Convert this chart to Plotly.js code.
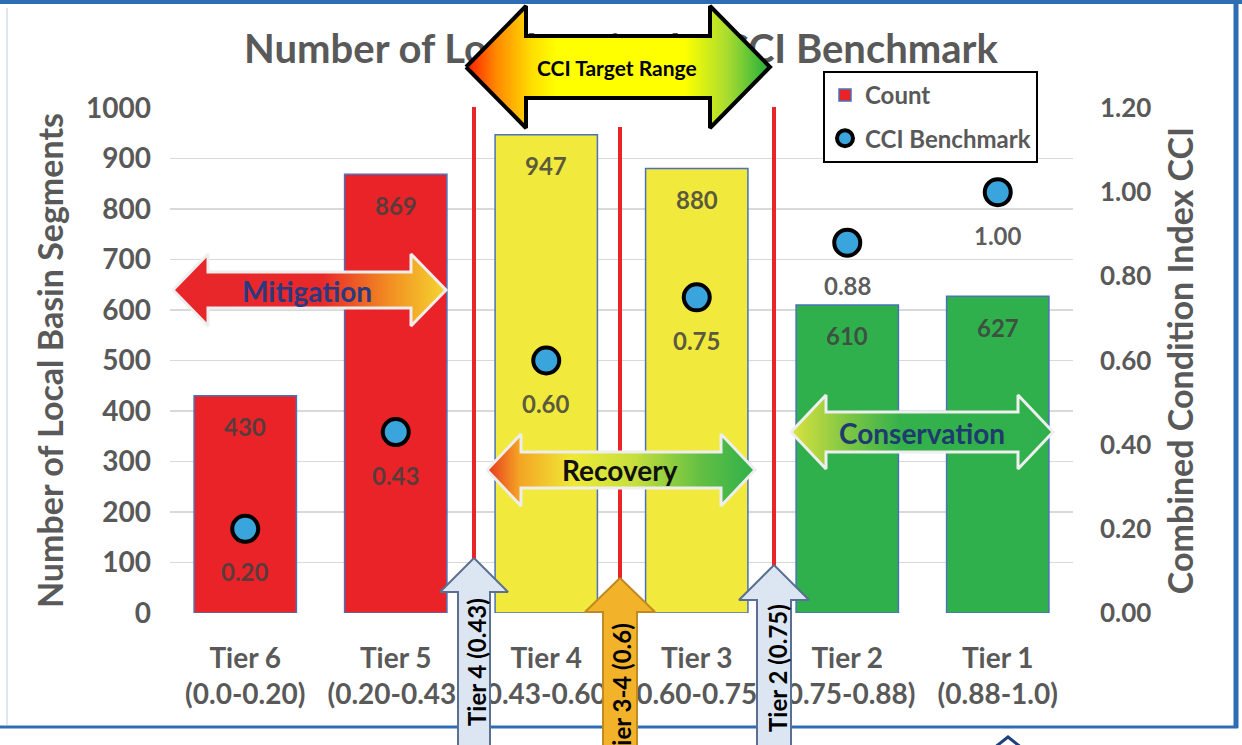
<!DOCTYPE html>
<html>
<head>
<meta charset="utf-8">
<script src="https://cdn.plot.ly/plotly-3.0.1.min.js"></script>
<style>
  html, body { margin: 0; padding: 0; background: #ffffff; }
  #chart { width: 1242px; height: 745px; }
</style>
</head>
<body>
<div id="chart"></div>
<script>
// ---- data ----
const tiers = ['Tier 6', 'Tier 5', 'Tier 4', 'Tier 3', 'Tier 2', 'Tier 1'];
const tierRanges = ['(0.0-0.20)', '(0.20-0.43)', '(0.43-0.60)', '(0.60-0.75)', '(0.75-0.88)', '(0.88-1.0)'];
const counts = [430, 869, 947, 880, 610, 627];
const cciBenchmark = [0.20, 0.43, 0.60, 0.75, 0.88, 1.00];
const countTicks = [0, 100, 200, 300, 400, 500, 600, 700, 800, 900, 1000];
const cciTicks = [0, 0.2, 0.4, 0.6, 0.8, 1.0, 1.2];

// ---- styling ----
const FONT = 'Lato, "Open Sans", "DejaVu Sans", sans-serif';
const GREY = '#595959';
const RED = '#ea2328', YELLOW = '#f1e93b', GREEN = '#2fb04c';
const barColors = [RED, RED, YELLOW, YELLOW, GREEN, GREEN];
const W = 1242, H = 745;
// main plotting area in pixels
const PL = 170, PR = 1073, PT = 108, PB = 613;

const idx = tiers.map((_, i) => i);
const tickText = tiers.map((t, i) => t + '<br>' + tierRanges[i]);

// ---- decorative arrow outlines (drawn on a full-page pixel overlay) ----
function doubleArrow(x0, x1, yc, headHalf, shaftHalf, headLen) {
  const xs = [x0, x0 + headLen, x0 + headLen, x1 - headLen, x1 - headLen, x1,
              x1 - headLen, x1 - headLen, x0 + headLen, x0 + headLen, x0];
  const ys = [yc, yc - headHalf, yc - shaftHalf, yc - shaftHalf, yc - headHalf, yc,
              yc + headHalf, yc + shaftHalf, yc + shaftHalf, yc + headHalf, yc];
  return { xs, ys };
}
function upArrow(xc, tipY, headHalf, headLen, shaftHalf, bottom) {
  const xs = [xc, xc + headHalf, xc + shaftHalf, xc + shaftHalf, xc - shaftHalf, xc - shaftHalf, xc - headHalf, xc];
  const ys = [tipY, tipY + headLen, tipY + headLen, bottom, bottom, tipY + headLen, tipY + headLen, tipY];
  return { xs, ys };
}
function overlayShape(shape, opts) {
  return Object.assign({
    type: 'scatter', mode: 'lines', x: shape.xs, y: shape.ys,
    xaxis: 'x3', yaxis: 'y3', fill: 'toself',
    hoverinfo: 'skip', showlegend: false
  }, opts);
}
function gradientArrow(shape, colorscale, lineColor, lineWidth) {
  return overlayShape(shape, {
    fillcolor: colorscale[colorscale.length - 1][1],
    fillgradient: {
      type: 'horizontal', colorscale: colorscale,
      start: Math.min(...shape.xs), stop: Math.max(...shape.xs)
    },
    line: { color: lineColor, width: lineWidth }
  });
}
function vline(x, y0, y1) {
  return {
    type: 'scatter', mode: 'lines', x: [x, x], y: [y0, y1],
    xaxis: 'x3', yaxis: 'y3', line: { color: '#e8262a', width: 4 },
    hoverinfo: 'skip', showlegend: false
  };
}

const mitigation = doubleArrow(173, 446, 290, 36, 18, 35);
const recovery = doubleArrow(487, 755, 470, 36, 18, 34);
const conservation = doubleArrow(791, 1053, 432, 37, 20, 35);
const targetRange = doubleArrow(466, 770, 67, 61, 31, 60);
const tier4Marker = upArrow(474, 558, 34, 34, 16, 770);
const tier34Marker = upArrow(620, 578, 35, 34, 17, 770);
const tier2Marker = upArrow(774, 565, 35, 35, 17, 770);

const traces = [
  {
    type: 'bar', name: 'Count', x: idx, y: counts, width: 0.68,
    marker: { color: barColors, line: { color: '#4a72b8', width: 1.5 } },
    legendgroup: 'count', hoverinfo: 'skip'
  },
  {
    type: 'scatter', mode: 'markers', name: 'CCI Benchmark', x: idx, y: cciBenchmark,
    yaxis: 'y2',
    marker: { size: 26, color: '#3aa5dd', line: { color: '#000000', width: 4 } },
    legendgroup: 'cci', hoverinfo: 'skip'
  },
  // tier boundary lines
  vline(474, 107, PB),
  vline(620, 127, 580),
  vline(774, 107, PB),
  // boundary markers pointing up from the axis
  overlayShape(tier4Marker, { fillcolor: '#dce6f2', line: { color: '#5b7090', width: 2 } }),
  overlayShape(tier34Marker, { fillcolor: '#f2b32a', line: { color: '#c08a20', width: 2 } }),
  overlayShape(tier2Marker, { fillcolor: '#dce6f2', line: { color: '#5b7090', width: 2 } }),
  // management zones
  gradientArrow(mitigation, [[0, '#e8262a'], [0.55, '#e8292a'], [0.8, '#f29022'], [1, '#f5d630']], '#eeeeee', 3),
  gradientArrow(recovery, [[0, '#e8361f'], [0.12, '#f4a424'], [0.32, '#efe936'], [0.55, '#c6df3e'], [0.8, '#62bf42'], [1, '#2fb04c']], '#eeeeee', 3),
  gradientArrow(conservation, [[0, '#dbe23f'], [0.22, '#7cc644'], [0.42, '#34b14b'], [1, '#2fb04c']], '#eeeeee', 3),
  gradientArrow(targetRange, [[0, '#ff1a00'], [0.1, '#ff8a00'], [0.22, '#ffe000'], [0.3, '#ffff00'], [0.72, '#ffff00'], [0.86, '#a8dc30'], [1, '#1fae3c']], '#000000', 4),
  // page ornament at the lower edge
  {
    type: 'scatter', mode: 'lines', x: [994, 1008, 1022], y: [748, 737, 748],
    xaxis: 'x3', yaxis: 'y3', line: { color: '#1f3f7f', width: 3 },
    hoverinfo: 'skip', showlegend: false
  }
];

// value labels
const annotations = [];
counts.forEach((v, i) => {
  annotations.push({
    xref: 'x', yref: 'y', x: i, y: v, yshift: -31, showarrow: false,
    text: String(v), yanchor: 'middle',
    font: { family: FONT, size: 24, color: 'rgba(64,64,64,0.85)', weight: 'bold' }
  });
});
cciBenchmark.forEach((v, i) => {
  annotations.push({
    xref: 'x', yref: 'y2', x: i, y: v, yshift: -43, showarrow: false,
    text: v.toFixed(2), yanchor: 'middle',
    font: { family: FONT, size: 24, color: 'rgba(64,64,64,0.85)', weight: 'bold' }
  });
});
function pxLabel(text, x, y, size, color, angle) {
  annotations.push({
    xref: 'x3', yref: 'y3', x: x, y: y, showarrow: false, text: text,
    xanchor: 'center', yanchor: 'middle', textangle: angle || 0,
    font: { family: FONT, size: size, color: color, weight: 'bold' }
  });
}
pxLabel('CCI Target Range', 617, 67, 21, '#000000');
pxLabel('Mitigation', 307, 291, 28, '#2b3a80');
pxLabel('Recovery', 620, 470, 28, '#111111');
pxLabel('Conservation', 922, 433, 28, '#1e3a6e');
pxLabel('Tier 4 (0.43)', 476, 662, 24, '#000000', -90);
pxLabel('Tier 3-4 (0.6)', 621, 692, 24, '#000000', -90);
pxLabel('Tier 2 (0.75)', 777, 668, 24, '#000000', -90);

// page frame
const shapes = [
  { type: 'rect', xref: 'paper', yref: 'paper', x0: 0, x1: 1, y0: 1 - 4 / H, y1: 1,
    fillcolor: '#2e6db4', line: { width: 0 }, layer: 'below' },
  { type: 'line', xref: 'paper', yref: 'paper', x0: 1236 / W, x1: 1236 / W, y0: 1 - 728 / H, y1: 1,
    line: { color: '#2e6db4', width: 5 }, layer: 'below' },
  { type: 'line', xref: 'paper', yref: 'paper', x0: 0, x1: 1238 / W, y0: 1 - 727 / H, y1: 1 - 727 / H,
    line: { color: '#2e6db4', width: 3 }, layer: 'below' },
  { type: 'line', xref: 'paper', yref: 'paper', x0: 7 / W, x1: 7 / W, y0: 1 - 725 / H, y1: 1 - 8 / H,
    line: { color: '#dfe7ef', width: 2 }, layer: 'below' }
];

const layout = {
  width: W, height: H,
  margin: { l: 0, r: 0, t: 0, b: 0, pad: 0 },
  paper_bgcolor: '#ffffff',
  plot_bgcolor: 'rgba(0,0,0,0)',
  font: { family: FONT, color: GREY },
  title: {
    text: 'Number of Local Basins by CCI Benchmark',
    x: 0.5, xanchor: 'center', y: 1 - 49 / H, yanchor: 'middle',
    font: { family: FONT, size: 40, color: GREY, weight: 'bold' }
  },
  showlegend: true,
  legend: {
    x: 823 / W, y: 1 - 71 / H, xanchor: 'left', yanchor: 'top',
    bgcolor: '#ffffff', bordercolor: '#000000', borderwidth: 2,
    font: { family: FONT, size: 24, color: GREY, weight: 'bold' },
    traceorder: 'grouped', tracegroupgap: 9
  },
  bargap: 0,
  xaxis: {
    domain: [PL / W, PR / W], anchor: 'y', range: [-0.5, 5.5],
    tickmode: 'array', tickvals: idx, ticktext: tickText,
    ticks: '', ticklabelstandoff: 26,
    showgrid: false, zeroline: false, showline: false, automargin: false,
    tickfont: { family: FONT, size: 28, color: GREY, weight: 'bold' }
  },
  yaxis: {
    domain: [1 - PB / H, 1 - PT / H], anchor: 'x', range: [0, 1000],
    tickmode: 'array', tickvals: countTicks,
    ticks: '', ticklabelstandoff: 18,
    showgrid: true, gridcolor: '#d9d9d9', gridwidth: 1.5,
    zeroline: false, showline: false, automargin: false,
    tickfont: { family: FONT, size: 28, color: GREY, weight: 'bold' },
    title: {
      text: 'Number of Local Basin Segments', standoff: 12,
      font: { family: FONT, size: 34, color: GREY, weight: 'bold' }
    }
  },
  yaxis2: {
    overlaying: 'y', side: 'right', anchor: 'x', range: [0, 1.2],
    tickmode: 'array', tickvals: cciTicks, tickformat: '.2f',
    ticks: '', ticklabelstandoff: 26,
    showgrid: false, zeroline: false, showline: false, automargin: false,
    tickfont: { family: FONT, size: 26, color: GREY, weight: 'bold' },
    title: {
      text: 'Combined Condition Index CCI', standoff: 18,
      font: { family: FONT, size: 34, color: GREY, weight: 'bold' }
    }
  },
  // full-page pixel overlay used for the annotation arrows
  xaxis3: { domain: [0, 1], anchor: 'y3', range: [0, W], visible: false, fixedrange: true },
  yaxis3: { domain: [0, 1], anchor: 'x3', range: [H, 0], visible: false, fixedrange: true },
  shapes: shapes,
  annotations: annotations
};

const gd = document.getElementById('chart');
Plotly.newPlot(gd, traces, layout, { staticPlot: true, displayModeBar: false }).then(() => {
  // keep the chart title beneath the overlay arrows
  const title = gd.querySelector('.g-gtitle');
  const paper = gd.querySelector('.main-svg');
  const cart = paper && paper.querySelector('.cartesianlayer');
  if (title && cart) paper.insertBefore(title, cart);
});
</script>
</body>
</html>
